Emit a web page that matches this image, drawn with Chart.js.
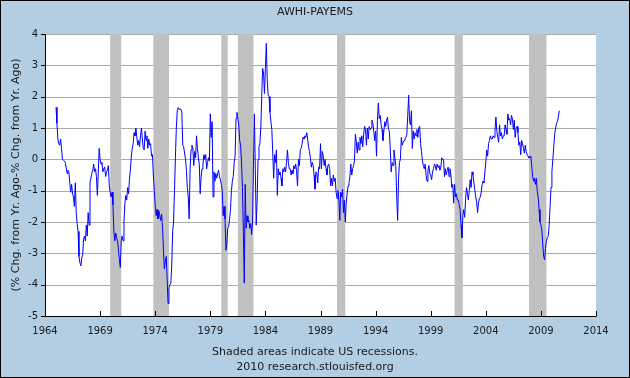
<!DOCTYPE html>
<html>
<head>
<meta charset="utf-8">
<script src="https://cdn.jsdelivr.net/npm/chart.js@4.4.0/dist/chart.umd.min.js"></script>
<style>
  html, body { margin: 0; padding: 0; background: #b3cde3; }
  canvas { display: block; }
</style>
</head>
<body>
<canvas id="c" width="630" height="378"></canvas>
<script>
const startYear = 1965;
const v1960s = [
  1.66, 1.15, 0.65, 0.5, 0.45, 0.65, 0.35, 0.0, -0.03, -0.05, -0.1, -0.25,
  -0.45, -0.35, -0.4, -0.75, -1.05, -0.8, -1.1, -1.2, -1.5, -0.75, -1.7, -2.05,
  -2.3, -3.1, -3.3, -3.4, -3.15, -3.05, -2.55, -2.45, -2.6, -2.1, -2.45, -1.7,
  -2.1, -0.75, -0.6, -0.45, -0.35, -0.15, -0.4, -0.3, -0.55, -1.15, -0.45, 0.35,
  0.0, -0.15, -0.1, -0.4, -0.3, -0.25, -0.55, -0.4, -0.35, -0.2, -0.85, -1.05
];
const v1970s = [
  -1.2, -1.05, -1.45, -2.3, -2.6, -2.35, -2.5, -2.6, -2.9, -3.2, -3.45, -2.6,
  -2.45, -2.6, -2.0, -1.4, -1.15, -1.3, -0.9, -1.1, -0.6, -0.35, 0.1, 0.35,
  0.5, 0.85, 0.75, 1.0, 0.7, 0.45, 0.6, 0.4, 0.75, 1.0, 0.65, 0.35,
  0.3, 0.9, 0.6, 0.75, 0.35, 0.65, 0.45, 0.5, 0.1, 0.15, -0.5, -1.0,
  -1.45, -1.8, -1.6, -1.9, -1.65, -1.8, -1.95, -1.75, -2.2, -2.9, -3.5, -3.25,
  -3.1, -3.8, -4.6, -4.1, -4.0, -3.95, -3.4, -2.3, -2.0, -1.0, 0.05, 1.0,
  1.55, 1.65, 1.6, 1.6, 1.6, 1.5, 0.45, 0.4, 0.2, 0.0, -0.35, -0.9,
  -1.2, -1.9, -0.3, 0.3, 0.45, 0.35, -0.2, 0.25, 0.05, 0.75, 0.35, 0.05,
  -0.15, -1.1, -0.55, -0.3, -0.15, 0.15, 0.0, 0.15, -0.3, -0.1, 0.05, -0.05,
  1.45, 0.7, 1.2, -1.2, -0.4, -0.7, -0.45, -0.6, -0.45, -0.35, -0.55, -0.65
];
const v1980s = [
  -0.8, -1.0, -1.8, -1.5, -1.9, -2.9, -2.7, -2.2, -2.15, -1.9, -1.6, -1.0,
  -0.7, -0.55, -0.1, 0.1, 1.3, 1.5, 1.3, 1.1, 0.6, 0.45, -0.1, -0.9,
  -2.3, -3.95, -0.8, -2.2, -1.8, -2.0, -1.95, -2.2, -2.05, -2.4, -2.0, -0.2,
  1.45, -0.3, -2.1, -1.3, 0.0, 0.4, 0.5, 1.0, 2.0, 2.9, 2.75, 2.1,
  2.9, 3.7, 2.5, 2.05, 2.0, 1.5, 1.2, 0.95, 0.2, -0.6, 0.15, -0.1,
  0.3, -1.15, -0.3, -0.5, -0.4, -0.6, -0.85, -0.3, -0.4, -0.25, -0.4, -0.1,
  0.3, -0.1, -0.3, -0.3, -0.5, -0.35, -0.45, -0.2, -0.3, -0.15, -0.4, -0.85,
  0.0, -0.2, 0.3, 0.35, 0.5, 0.7, 0.65, 0.75, 0.7, 0.85, 0.65, 0.4,
  0.25, 0.05, -0.25, -0.1, -0.2, -0.5, -0.95, -0.4, -0.45, -0.75, -0.25, -0.3,
  0.5, -0.3, 0.25, 0.1, -0.2, 0.0, -0.3, -0.5, -0.2, -0.15, -0.3, -0.85
];
const v1990s = [
  -0.6, -0.85, -0.5, -0.7, -0.6, -1.05, -1.25, -1.0, -1.3, -1.95, -1.05, -1.2,
  -0.95, -1.7, -1.3, -2.0, -1.4, -1.1, -0.85, -0.75, -0.55, -0.15, -0.5, -0.3,
  -0.2, -0.05, 0.8, 0.55, 0.2, 0.55, 0.3, 0.7, 0.5, 0.75, 0.4, 0.8,
  1.05, 0.95, 0.45, 1.0, 0.65, 1.05, 0.95, 1.0, 1.25, 1.15, 0.9, 0.6,
  0.9, 0.1, 1.25, 1.8, 1.3, 1.4, 1.1, 0.95, 0.6, 0.9, 1.2, 1.05,
  1.25, 1.35, 0.95, 0.9, 0.3, -0.4, -0.1, -0.2, 0.3, 0.05, -0.2, -1.2,
  -1.95, -0.6, -0.1, 0.0, 0.7, 0.45, 0.55, 0.6, 0.65, 0.7, 0.8, 1.4,
  2.05, 1.2, 1.1, 1.55, 0.35, 0.9, 0.65, 0.85, 0.75, 0.95, 0.7, 1.0,
  1.05, 0.5, 0.25, -0.05, -0.2, -0.3, -0.15, -0.5, -0.7, -0.35, -0.2, -0.45,
  -0.5, -0.65, -0.4, -0.3, -0.15, -0.2, -0.35, -0.15, -0.25, -0.2, -0.35, -0.25
];
const v2000s = [
  0.05, 0.0, 0.0, -0.55, -0.3, -0.5, -0.35, -0.25, -0.55, -0.3, -0.5, -0.9,
  -0.8, -1.4, -0.8, -1.2, -1.1, -1.3, -1.3, -1.45, -1.6, -2.1, -2.5, -1.8,
  -1.6, -1.85, -1.25, -0.9, -1.1, -1.3, -1.0, -0.65, -0.9, -0.4, -0.5, -0.75,
  -0.95, -1.2, -1.35, -1.7, -1.4, -1.25, -1.2, -1.05, -0.8, -0.7, -0.75, -0.4,
  -0.1, 0.3, 0.1, 0.5, 0.6, 0.75, 0.65, 0.65, 0.75, 0.7, 0.9, 1.35,
  0.9, 0.7, 0.55, 1.1, 0.75, 0.85, 0.65, 0.75, 0.75, 1.1, 0.95, 0.8,
  1.45, 1.25, 1.3, 1.1, 1.4, 1.3, 0.95, 1.25, 0.7, 1.0, 1.05, 0.85,
  0.45, 0.55, 0.15, 0.6, 0.5, 0.35, 0.2, 0.45, 0.25, 0.15, 0.1, 0.05,
  0.05, 0.1, -0.2, -0.55, -0.7, -0.6, -0.8, -0.6, -1.0, -1.2, -1.6, -2.0,
  -2.1, -2.25, -2.7, -3.1, -3.2, -2.85, -2.6, -2.5, -2.45, -2.1, -1.5, -0.9
];
const v2010s = [-0.4, 0.0, 0.4, 0.8, 1.0, 1.15, 1.2, 1.35, 1.55];

const xTickYears = [1964, 1969, 1974, 1979, 1984, 1989, 1994, 1999, 2004, 2009, 2014];
const yTickValues = [4, 3, 2, 1, 0, -1, -2, -3, -4, -5];
const recessionStart = [1969.917, 1973.833, 1980.0, 1981.5, 1990.5, 2001.167, 2007.917];
const recessionEnd   = [1970.917, 1975.25, 1980.583, 1982.917, 1991.25, 2001.917, 2009.5];

const titleText = 'AWHI-PAYEMS';
const yAxisTitle = '(% Chg. from Yr. Ago-% Chg. from Yr. Ago)';
const footer1 = 'Shaded areas indicate US recessions.';
const footer2 = '2010 research.stlouisfed.org';

const allValues = [].concat(v1960s, v1970s, v1980s, v1990s, v2000s, v2010s);
const points = allValues.map((v, i) => ({ x: startYear + i / 12, y: v }));

const FONT = '"DejaVu Sans", Verdana, sans-serif';
const TEXT = '#1a1a1a';

function gridYs(chart) {
  return yTickValues.map(v => Math.round(chart.scales.y.getPixelForValue(v)) + 0.5);
}

const fredPlugin = {
  id: 'fred',
  beforeDraw(chart) {
    const { ctx, chartArea: a } = chart;
    ctx.save();
    ctx.fillStyle = '#b3cde3';
    ctx.fillRect(0, 0, chart.width, chart.height);
    ctx.fillStyle = '#ffffff';
    ctx.fillRect(a.left, a.top, a.right - a.left, a.bottom - a.top);
    ctx.restore();
  },
  beforeDatasetsDraw(chart) {
    const { ctx, chartArea: a } = chart;
    const xs = chart.scales.x;
    ctx.save();
    ctx.strokeStyle = '#aaaaaa';
    ctx.lineWidth = 1;
    gridYs(chart).forEach(py => {
      ctx.beginPath();
      ctx.moveTo(a.left, py);
      ctx.lineTo(a.right, py);
      ctx.stroke();
    });
    ctx.fillStyle = '#c0c0c0';
    for (let i = 0; i < recessionStart.length; i++) {
      const x0 = xs.getPixelForValue(recessionStart[i]);
      const x1 = xs.getPixelForValue(recessionEnd[i]);
      ctx.fillRect(x0, a.top, x1 - x0, a.bottom - a.top);
    }
    ctx.restore();
  },
  afterDatasetsDraw(chart) {
    const { ctx, chartArea: a } = chart;
    const xs = chart.scales.x;
    ctx.save();
    ctx.strokeStyle = '#000';
    ctx.lineWidth = 1;
    ctx.beginPath();
    ctx.moveTo(a.left + 0.5, a.top);
    ctx.lineTo(a.left + 0.5, a.bottom + 0.5);
    ctx.lineTo(a.right + 0.5, a.bottom + 0.5);
    ctx.stroke();
    ctx.beginPath();
    xTickYears.forEach(y => {
      const px = Math.round(xs.getPixelForValue(y)) + 0.5;
      ctx.moveTo(px, a.bottom);
      ctx.lineTo(px, a.bottom - 5);
    });
    gridYs(chart).forEach(py => {
      ctx.moveTo(a.left - 4, py);
      ctx.lineTo(a.left + 0.5, py);
    });
    ctx.stroke();
    ctx.restore();
  },
  afterDraw(chart) {
    const { ctx, chartArea: a } = chart;
    ctx.save();
    ctx.fillStyle = TEXT;
    ctx.font = '11px ' + FONT;
    ctx.textAlign = 'center';
    ctx.textBaseline = 'middle';
    ctx.fillText(titleText, chart.width / 2, 12);
    ctx.fillText(footer1, chart.width / 2, 352);
    ctx.fillText(footer2, chart.width / 2, 367);
    ctx.translate(16, (a.top + a.bottom) / 2);
    ctx.rotate(-Math.PI / 2);
    ctx.fillText(yAxisTitle, 0, 0);
    ctx.restore();
    ctx.save();
    ctx.strokeStyle = '#000';
    ctx.lineWidth = 1;
    ctx.strokeRect(0.5, 0.5, chart.width - 1, chart.height - 1);
    ctx.restore();
  }
};

new Chart(document.getElementById('c'), {
  type: 'line',
  data: {
    datasets: [{
      data: points,
      borderColor: '#0000ff',
      borderWidth: 1,
      pointRadius: 0,
      tension: 0,
      fill: false
    }]
  },
  options: {
    responsive: false,
    animation: false,
    devicePixelRatio: 1,
    layout: { padding: { top: 34, right: 34, left: 0, bottom: 0 } },
    plugins: { legend: { display: false }, tooltip: { enabled: false }, title: { display: false } },
    scales: {
      x: {
        type: 'linear',
        min: 1964, max: 2014,
        afterFit(s) { s.height = 62; },
        afterBuildTicks(s) { s.ticks = xTickYears.map(v => ({ value: v })); },
        grid: { display: false, drawTicks: false },
        border: { display: false },
        ticks: {
          padding: 9,
          color: TEXT,
          font: { family: FONT, size: 10 },
          maxRotation: 0,
          autoSkip: false,
          callback: (v) => String(v)
        }
      },
      y: {
        type: 'linear',
        min: -5, max: 4,
        afterFit(s) { s.width = 45; },
        afterBuildTicks(s) { s.ticks = yTickValues.map(v => ({ value: v })); },
        grid: { display: false, drawTicks: false },
        border: { display: false },
        ticks: {
          padding: 7,
          color: TEXT,
          font: { family: FONT, size: 10 },
          autoSkip: false,
          callback: (v) => String(v)
        }
      }
    }
  },
  plugins: [fredPlugin]
});
</script>
</body>
</html>
